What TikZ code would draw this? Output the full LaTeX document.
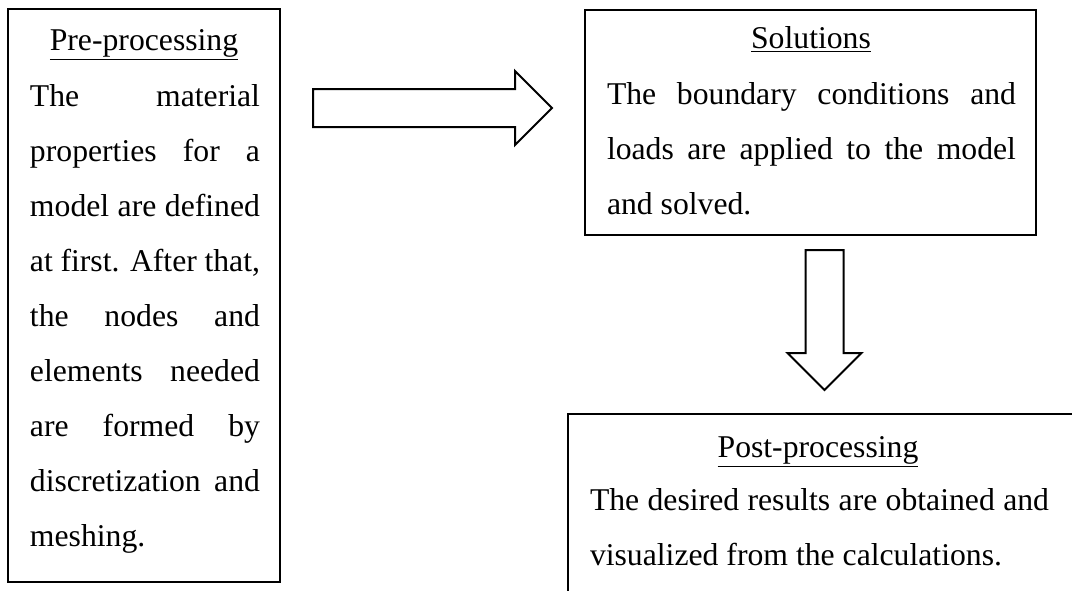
\documentclass[tikz,border=0pt]{standalone}
\usepackage{fontspec}
\setmainfont{Liberation Serif}
\usetikzlibrary{shapes.arrows}

\begin{document}
\begin{tikzpicture}[x=0.5pt, y=-0.5pt, line width=1pt,
    font=\fontsize{15.85}{27.5}\selectfont,
    stage/.style={draw, rectangle, inner sep=0pt},
    heading/.style={anchor=base, inner sep=0pt},
    body/.style={anchor=north west, inner sep=0pt, align=justify},
    blockarrow/.style={draw, single arrow, anchor=tail, inner sep=9pt, single arrow head extend=9pt, minimum width=36pt}]

    \useasboundingbox (0,0) rectangle (1072,590);
    \clip (0,0) rectangle (1072,590);

    % pre-processing
    \node[stage, minimum width=136pt, minimum height=286.5pt] (pre) at (144,295.5) {};
    \node[heading] (pretitle) at (144,50) {\underline{Pre-processing}};
    \node[body, text width=115pt] (pretext) at (29,81) {\noindent\rule{0pt}{12pt}The material\linebreak
        properties for a\linebreak model are defined\linebreak at first. After that,\linebreak
        the nodes and\linebreak elements needed\linebreak are formed by\linebreak
        discretization and\linebreak meshing.};

    % solutions
    \node[stage, minimum width=225.5pt, minimum height=112.5pt] (solve) at (810.5,122.5) {};
    \node[heading] (solvetitle) at (811,48) {\underline{Solutions}};
    \node[body, text width=204.5pt] (solvetext) at (606,79) {\noindent\rule{0pt}{12pt}The boundary conditions and\linebreak
        loads are applied to the model\linebreak and solved.};

    % post-processing (cut off at the page edge)
    \node[stage, minimum width=256pt, minimum height=100pt] (post) at (824,514) {};
    \node[heading] (posttitle) at (818,457) {\underline{Post-processing}};
    \node[body, text width=229.5pt] (posttext) at (589,485) {\noindent\rule{0pt}{12pt}The desired results are obtained and\linebreak
        visualized from the calculations.};

    % arrows between the stages
    \node[blockarrow, minimum height=119.5pt] (tosolve) at (312,108) {};
    \node[blockarrow, minimum height=70pt, rotate=-90] (topost) at (824.5,249) {};

\end{tikzpicture}
\end{document}
